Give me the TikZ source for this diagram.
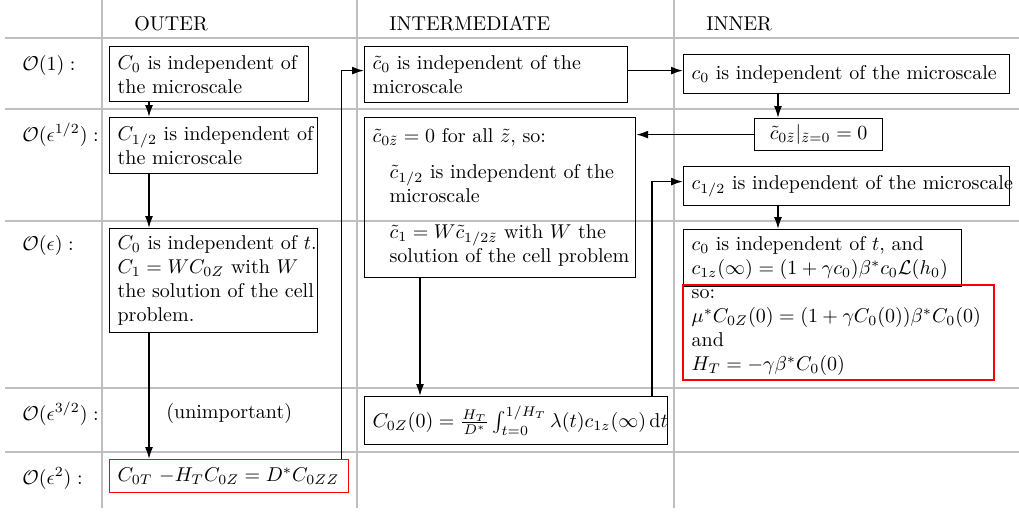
\documentclass[tikz,border=0pt]{standalone}
\usepackage{amsmath,amssymb}
\usetikzlibrary{arrows.meta}

\begin{document}
\begin{tikzpicture}[x=0.5pt, y=-0.5pt, >={Latex[length=6pt,width=4pt]},
    tableline/.style={black!25, line width=0.6pt},
    box/.style={draw, semithick, align=left, anchor=north west, inner xsep=4pt, inner ysep=3pt},
    redbox/.style={box, draw=red, line width=0.7pt},
    link/.style={->, thick}]
    \useasboundingbox (0,0) rectangle (1019,511);

    % table lines
    \foreach \x in {102, 357, 674} {
        \draw[tableline] (\x, 0) -- (\x, 508);
    }
    \foreach \y in {38, 109, 221, 388, 452} {
        \draw[tableline] (5, \y) -- (1019, \y);
    }

    % column titles
    \node[anchor=base west, inner sep=0pt] (hout) at (134, 30) {OUTER};
    \node[anchor=base west, inner sep=0pt] (hmid) at (389, 30) {INTERMEDIATE};
    \node[anchor=base west, inner sep=0pt] (hin) at (706, 30) {INNER};

    % orders
    \node[anchor=base west, inner sep=0pt] (r1) at (22, 70) {$\mathcal{O}(1):$};
    \node[anchor=base west, inner sep=0pt] (r2) at (22, 141) {$\mathcal{O}(\epsilon^{1/2}):$};
    \node[anchor=base west, inner sep=0pt] (r3) at (22, 250) {$\mathcal{O}(\epsilon):$};
    \node[anchor=base west, inner sep=0pt] (r4) at (22, 420) {$\mathcal{O}(\epsilon^{3/2}):$};
    \node[anchor=base west, inner sep=0pt] (r5) at (22, 484) {$\mathcal{O}(\epsilon^{2}):$};

    % outer
    \node[box, text width=91.5pt, minimum height=27.5pt] (o1) at (109, 46)
        {\mbox{$C_0$ is independent of}\\ the microscale};
    \node[box, text width=96pt, minimum height=28pt] (o2) at (109, 117)
        {\mbox{$C_{1/2}$ is independent of}\\ the microscale};
    \node[box, text width=96pt, minimum height=52pt] (o3) at (109, 228)
        {\mbox{$C_0$ is independent of $t$.}\\ \mbox{$C_1 = WC_{0Z}$ with $W$}\\ \mbox{the solution of the cell}\\ problem.};
    \node[anchor=base west, inner sep=0pt] (o4) at (166, 418) {(unimportant)};
    \node[redbox, text width=111.5pt, minimum height=16.5pt] (o5) at (109, 459)
        {\mbox{$C_{0T}$ $-H_TC_{0Z} = D^*C_{0ZZ}$}};

    % intermediate
    \node[box, text width=123.5pt, minimum height=28pt] (m1) at (364, 46)
        {\mbox{$\tilde{c}_0$ is independent of the}\\ microscale};
    \node[box, text width=127.5pt, minimum height=80pt] (m2) at (364, 117)
        {\mbox{$\tilde{c}_{0\tilde{z}} = 0$ for all $\tilde{z}$, so:}\\[6pt]
         \mbox{\hspace*{8.5pt}$\tilde{c}_{1/2}$ is independent of the}\\
         \mbox{\hspace*{8.5pt}microscale}\\[6pt]
         \mbox{\hspace*{8.5pt}$\tilde{c}_1 = W\tilde{c}_{1/2\tilde{z}}$ with $W$ the}\\
         \mbox{\hspace*{8.5pt}solution of the cell problem}};
    \node[box, text width=143.5pt, minimum height=24pt] (m3) at (364, 396)
        {\mbox{$C_{0Z}(0) = \frac{H_T}{D^*}\int_{t=0}^{1/H_T}\lambda(t)c_{1z}(\infty)\,\mathrm{d}t$}};

    % inner
    \node[box, text width=155pt, minimum height=19.5pt] (i1) at (683, 54)
        {\mbox{$c_0$ is independent of the microscale}};
    \node[box, align=center, text width=56pt, minimum height=15.5pt] (i2) at (754, 118)
        {\mbox{$\tilde{c}_{0\tilde{z}}|_{\tilde{z}=0} = 0$}};
    \node[box, text width=155pt, minimum height=19.5pt] (i3) at (683, 166)
        {\mbox{$c_{1/2}$ is independent of the microscale}};
    \node[box, text width=131pt, minimum height=28.5pt] (i4) at (683, 229)
        {\mbox{$c_0$ is independent of $t$, and}\\ \mbox{$c_{1z}(\infty) = (1+\gamma c_0)\beta^*c_0\mathcal{L}(h_0)$}};
    \node[redbox, text width=147pt, minimum height=47pt, inner ysep=2pt] (i5) at (683, 285)
        {\mbox{so:}\\ \mbox{$\mu^*C_{0Z}(0) = (1+\gamma C_0(0))\beta^*C_0(0)$}\\ \mbox{and}\\ \mbox{$H_T = -\gamma\beta^*C_0(0)$}};
    \draw[red, line width=0.7pt] (i5.north west) rectangle (i5.south east);

    % arrows down the columns
    \draw[link] ([xshift=20pt]o1.south west) -- ([xshift=20pt]o2.north west);
    \draw[link] ([xshift=20pt]o2.south west) -- ([xshift=20pt]o3.north west);
    \draw[link] ([xshift=20pt]o3.south west) -- ([xshift=20pt]o5.north west);
    \draw[link] ([xshift=28pt]m2.south west) -- ([xshift=28pt]m3.north west);
    \draw[link] ([xshift=47.5pt]i1.south west) -- ([xshift=47.5pt]i1.south west |- i2.north);
    \draw[link] ([xshift=47.5pt]i3.south west) -- ([xshift=47.5pt]i4.north west);

    % arrows across
    \draw[link] ([xshift=-4pt]o5.north east) |- ([yshift=2pt]m1.west);
    \draw[link] ([yshift=2pt]m1.east) -- ([yshift=2pt]m1.east -| i1.west);
    \draw[link] (i2.west) -- (i2.west -| m2.east);
    \draw[link] ([xshift=-8pt]m3.north east) |- ([yshift=2.25pt]i3.west);
\end{tikzpicture}
\end{document}
